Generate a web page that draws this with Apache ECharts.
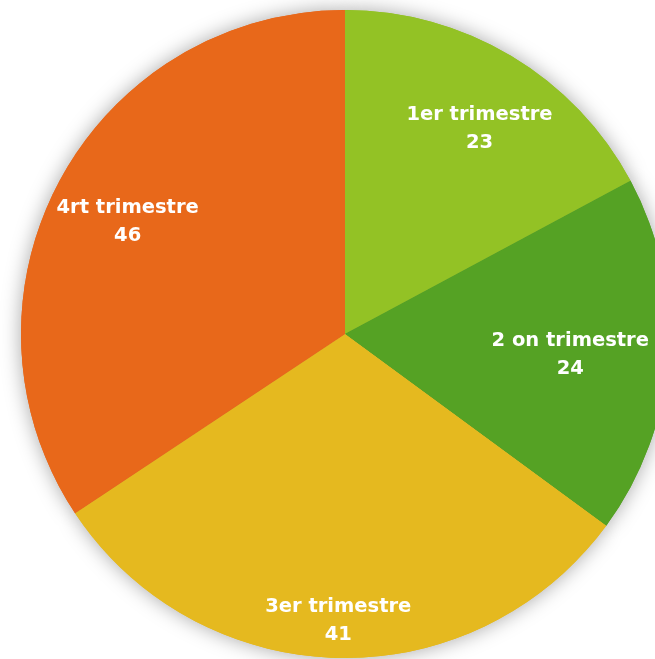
<!DOCTYPE html>
<html>
<head>
<meta charset="utf-8">
<script src="https://cdn.jsdelivr.net/npm/echarts@6/dist/echarts.min.js"></script>
<style>
html,body{margin:0;padding:0;background:#fff;}
#chart{width:655px;height:659px;}
</style>
</head>
<body>
<div id="chart"></div>
<script>
const categories = ['1er trimestre', '2 on trimestre', '3er trimestre', '4rt trimestre'];
const values = [23, 24, 41, 46];
const colors = ['#93C225', '#55A224', '#E5B91F', '#E8681A'];
const labelRadiusFactor = [0.763, 0.697, 0.88, 0.759];
const labelNudge = [[6, 10], [-3, 5], [0, -1], [2, 6]];

const CENTER = [345, 334];
const RADIUS = 324;

const total = values.reduce((a, b) => a + b, 0);
const midAngles = [];
let acc = 0;
values.forEach(v => { midAngles.push((acc + v / 2) / total * 2 * Math.PI); acc += v; });

const chart = echarts.init(document.getElementById('chart'), null, {renderer: 'canvas'});
const pieData = categories.map((c, i) => ({name: c, value: values[i], itemStyle: {color: colors[i]}}));
chart.setOption({
  animation: false,
  series: [{
    type: 'pie',
    z: 1,
    silent: true,
    center: CENTER,
    radius: RADIUS,
    startAngle: 90,
    clockwise: true,
    label: {show: false},
    labelLine: {show: false},
    itemStyle: {
      shadowBlur: 20,
      shadowColor: 'rgba(0,0,0,0.35)'
    },
    emphasis: {disabled: true},
    data: pieData
  }, {
    type: 'pie',
    z: 2,
    center: CENTER,
    radius: RADIUS,
    startAngle: 90,
    clockwise: true,
    avoidLabelOverlap: false,
    label: {
      show: true,
      position: 'inside',
      formatter: '{b}\n{c}',
      color: '#ffffff',
      fontFamily: 'DejaVu Sans',
      fontWeight: 'bold',
      fontSize: 19.5,
      lineHeight: 28,
      align: 'center'
    },
    labelLine: {show: false},
    labelLayout: function (params) {
      const i = params.dataIndex;
      const a = midAngles[i];
      const d = (labelRadiusFactor[i] - 0.5) * RADIUS;
      return {dx: Math.sin(a) * d + labelNudge[i][0], dy: -Math.cos(a) * d + labelNudge[i][1]};
    },
    emphasis: {disabled: true},
    data: pieData
  }]
});
</script>
</body>
</html>
